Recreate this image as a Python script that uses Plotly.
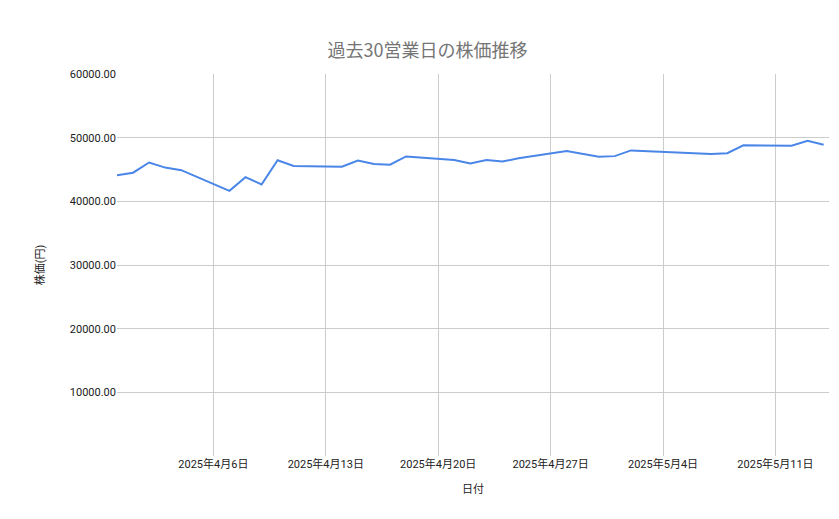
import plotly.graph_objects as go

dates = ["2025-03-31","2025-04-01","2025-04-02","2025-04-03","2025-04-04",
         "2025-04-07","2025-04-08","2025-04-09","2025-04-10","2025-04-11",
         "2025-04-14","2025-04-15","2025-04-16","2025-04-17","2025-04-18",
         "2025-04-21","2025-04-22","2025-04-23","2025-04-24","2025-04-25",
         "2025-04-28","2025-04-30","2025-05-01","2025-05-02",
         "2025-05-07","2025-05-08","2025-05-09",
         "2025-05-12","2025-05-13","2025-05-14"]
prices = [44100,44500,46100,45300,44900,
          41650,43800,42650,46450,45550,
          45450,46400,45850,45750,47050,
          46500,45950,46500,46250,46750,
          47900,47000,47100,48000,
          47450,47550,48800,
          48750,49500,48900]
tickvals = ["2025-04-06","2025-04-13","2025-04-20","2025-04-27","2025-05-04","2025-05-11"]
ticktext = ["2025年4月6日","2025年4月13日","2025年4月20日","2025年4月27日","2025年5月4日","2025年5月11日"]
yticks = [10000,20000,30000,40000,50000,60000]

fig = go.Figure(go.Scatter(x=dates, y=prices, mode="lines",
                           line=dict(color="#4a86e8", width=2)))
fig.update_layout(
    width=839, height=519, plot_bgcolor="white", paper_bgcolor="white",
    font=dict(family="Roboto, Noto Sans CJK JP", size=11, color="#222"),
    title=dict(text="過去30営業日の株価推移", x=0.5, y=0.93,
               font=dict(size=18, color="#757575", family="Noto Sans CJK JP")),
    margin=dict(l=109, r=18, t=66, b=71),
    showlegend=False,
    xaxis=dict(title=dict(text="日付", font=dict(size=11)), range=["2025-03-31","2025-05-14 08:00"],
               tickvals=tickvals, ticktext=ticktext, showgrid=True, gridcolor="#cccccc",
               showline=False, zeroline=False, ticks=""),
    yaxis=dict(title=dict(text="株価(円)", font=dict(size=11), standoff=22), range=[0,60000],
               tickvals=yticks, ticktext=[f"{v:.2f}" for v in yticks],
               showgrid=True, gridcolor="#cccccc", zeroline=False, ticks=""),
)
fig.write_html("out.html")
